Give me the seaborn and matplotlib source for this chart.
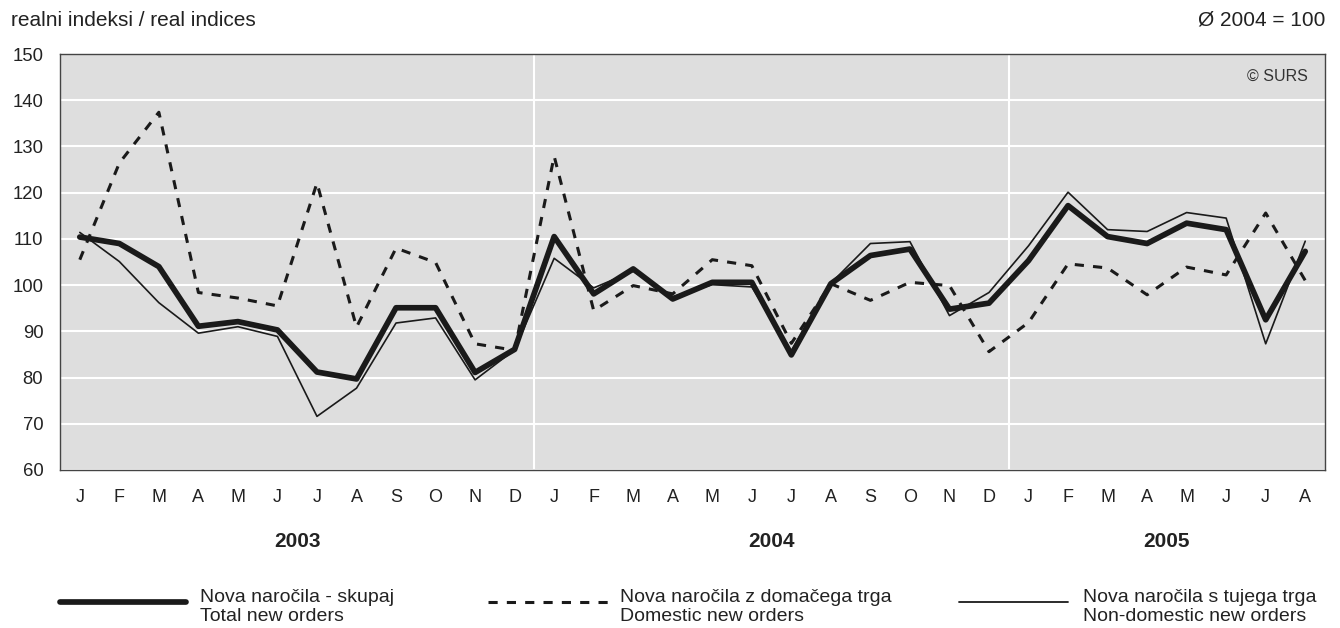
import numpy as np
import pandas as pd
import seaborn as sns
import matplotlib.pyplot as plt
from matplotlib.lines import Line2D

# monthly data, Jan 2003 - Aug 2005
months = ["J", "F", "M", "A", "M", "J", "J", "A", "S", "O", "N", "D"] * 2 + ["J", "F", "M", "A", "M", "J", "J", "A"]
years = ["2003", "2004", "2005"]

total = [110.4, 109.0, 104.0, 91.1, 92.1, 90.3, 81.2, 79.7, 95.1, 95.1, 81.1, 86.1,
         110.5, 98.1, 103.5, 97.0, 100.6, 100.6, 84.9, 100.3, 106.4, 107.8, 94.8, 96.1,
         105.3, 117.2, 110.5, 109.0, 113.4, 112.0, 92.5, 107.3]
domestic = [105.5, 126.4, 137.4, 98.4, 97.2, 95.5, 122.1, 90.9, 108.0, 104.9, 87.3, 85.9,
            127.9, 94.5, 99.9, 98.1, 105.5, 104.2, 87.4, 100.3, 96.7, 100.6, 99.9, 85.6,
            91.9, 104.6, 103.7, 97.9, 103.9, 102.2, 115.6, 101.0]
non_domestic = [111.4, 105.1, 96.2, 89.6, 91.0, 88.9, 71.6, 77.7, 91.8, 92.9, 79.5, 86.0,
                105.8, 99.4, 103.0, 97.5, 100.1, 99.6, 85.8, 100.4, 109.0, 109.4, 93.4, 98.4,
                108.5, 120.1, 112.0, 111.6, 115.7, 114.5, 87.3, 109.5]

labels_total = "Nova naročila - skupaj\nTotal new orders"
labels_dom = "Nova naročila z domačega trga\nDomestic new orders"
labels_nondom = "Nova naročila s tujega trga\nNon-domestic new orders"

df = pd.DataFrame({"idx": np.arange(len(months)), "total": total,
                   "domestic": domestic, "non_domestic": non_domestic})

sns.set_style("white", {"axes.facecolor": "#dedede", "axes.edgecolor": "#444444"})
plt.rcParams["font.family"] = ["Liberation Sans", "DejaVu Sans"]

fig = plt.figure(figsize=(13.4, 6.28), dpi=100)
ax = fig.add_axes([0.0448, 0.2516, 0.944, 0.6624])

col = "#1a1a1a"
sns.lineplot(data=df, x="idx", y="domestic", ax=ax, color=col, lw=2.2,
             zorder=3).lines[-1].set_dashes([3, 3])
sns.lineplot(data=df, x="idx", y="non_domestic", ax=ax, color=col, lw=1.2, zorder=4)
sns.lineplot(data=df, x="idx", y="total", ax=ax, color=col, lw=4.1, zorder=5)

ax.set_xlim(-0.5, len(months) - 0.5)
ax.set_ylim(60, 150)
ax.set_yticks(np.arange(60, 151, 10))
ax.yaxis.grid(True, color="white", lw=1.5)
ax.set_axisbelow(True)
for b in (11.5, 23.5):
    ax.axvline(b, color="white", lw=1.5, zorder=1)

ax.set_xticks(np.arange(-0.5, len(months), 1))
ax.set_xticklabels([])
ax.set_xticks(np.arange(len(months)), minor=True)
ax.set_xticklabels(months, minor=True)
ax.tick_params(axis="x", which="major", direction="out", length=5, width=1.5, color="#222222")
ax.tick_params(axis="x", which="minor", length=0, pad=14, labelsize=13, labelcolor="#222222")
ax.tick_params(axis="y", direction="out", length=5, width=1.2, color="#222222",
               labelsize=13.3, pad=7, labelcolor="#222222")
for s in ax.spines.values():
    s.set_linewidth(1.0)
ax.set_xlabel("")
ax.set_ylabel("")

# year labels
for i, y in enumerate(years):
    n = 12 if i < 2 else len(months) - 24
    ax.text(i * 12 + (n - 1) / 2, -0.171, y, transform=ax.get_xaxis_transform(),
            ha="center", va="center", fontsize=15, fontweight="bold", color="#222222")

ax.text(0.9866, 0.947, "© SURS", transform=ax.transAxes, ha="right", va="center",
        fontsize=11.5, color="#333333")
fig.text(0.008, 0.968, "realni indeksi / real indices", ha="left", va="center",
         fontsize=15, color="#222222")
fig.text(0.989, 0.968, "Ø 2004 = 100", ha="right", va="center",
         fontsize=15, color="#222222")

# legend drawn below the axis
entries = [(labels_total, 4.1, "-", 0.0448, 0.1388, 0.149),
           (labels_dom, 2.2, (0, (3, 3)), 0.364, 0.455, 0.4627),
           (labels_nondom, 1.3, "-", 0.716, 0.797, 0.808)]
for lab, lw, ls, x0, x1, tx in entries:
    fig.add_artist(Line2D([x0, x1], [0.0414, 0.0414], color=col, lw=lw, ls=ls))
    fig.text(tx, 0.0334, lab, ha="left", va="center", fontsize=14,
             color="#222222", linespacing=1.2)

plt.savefig("out.png", dpi=100)
